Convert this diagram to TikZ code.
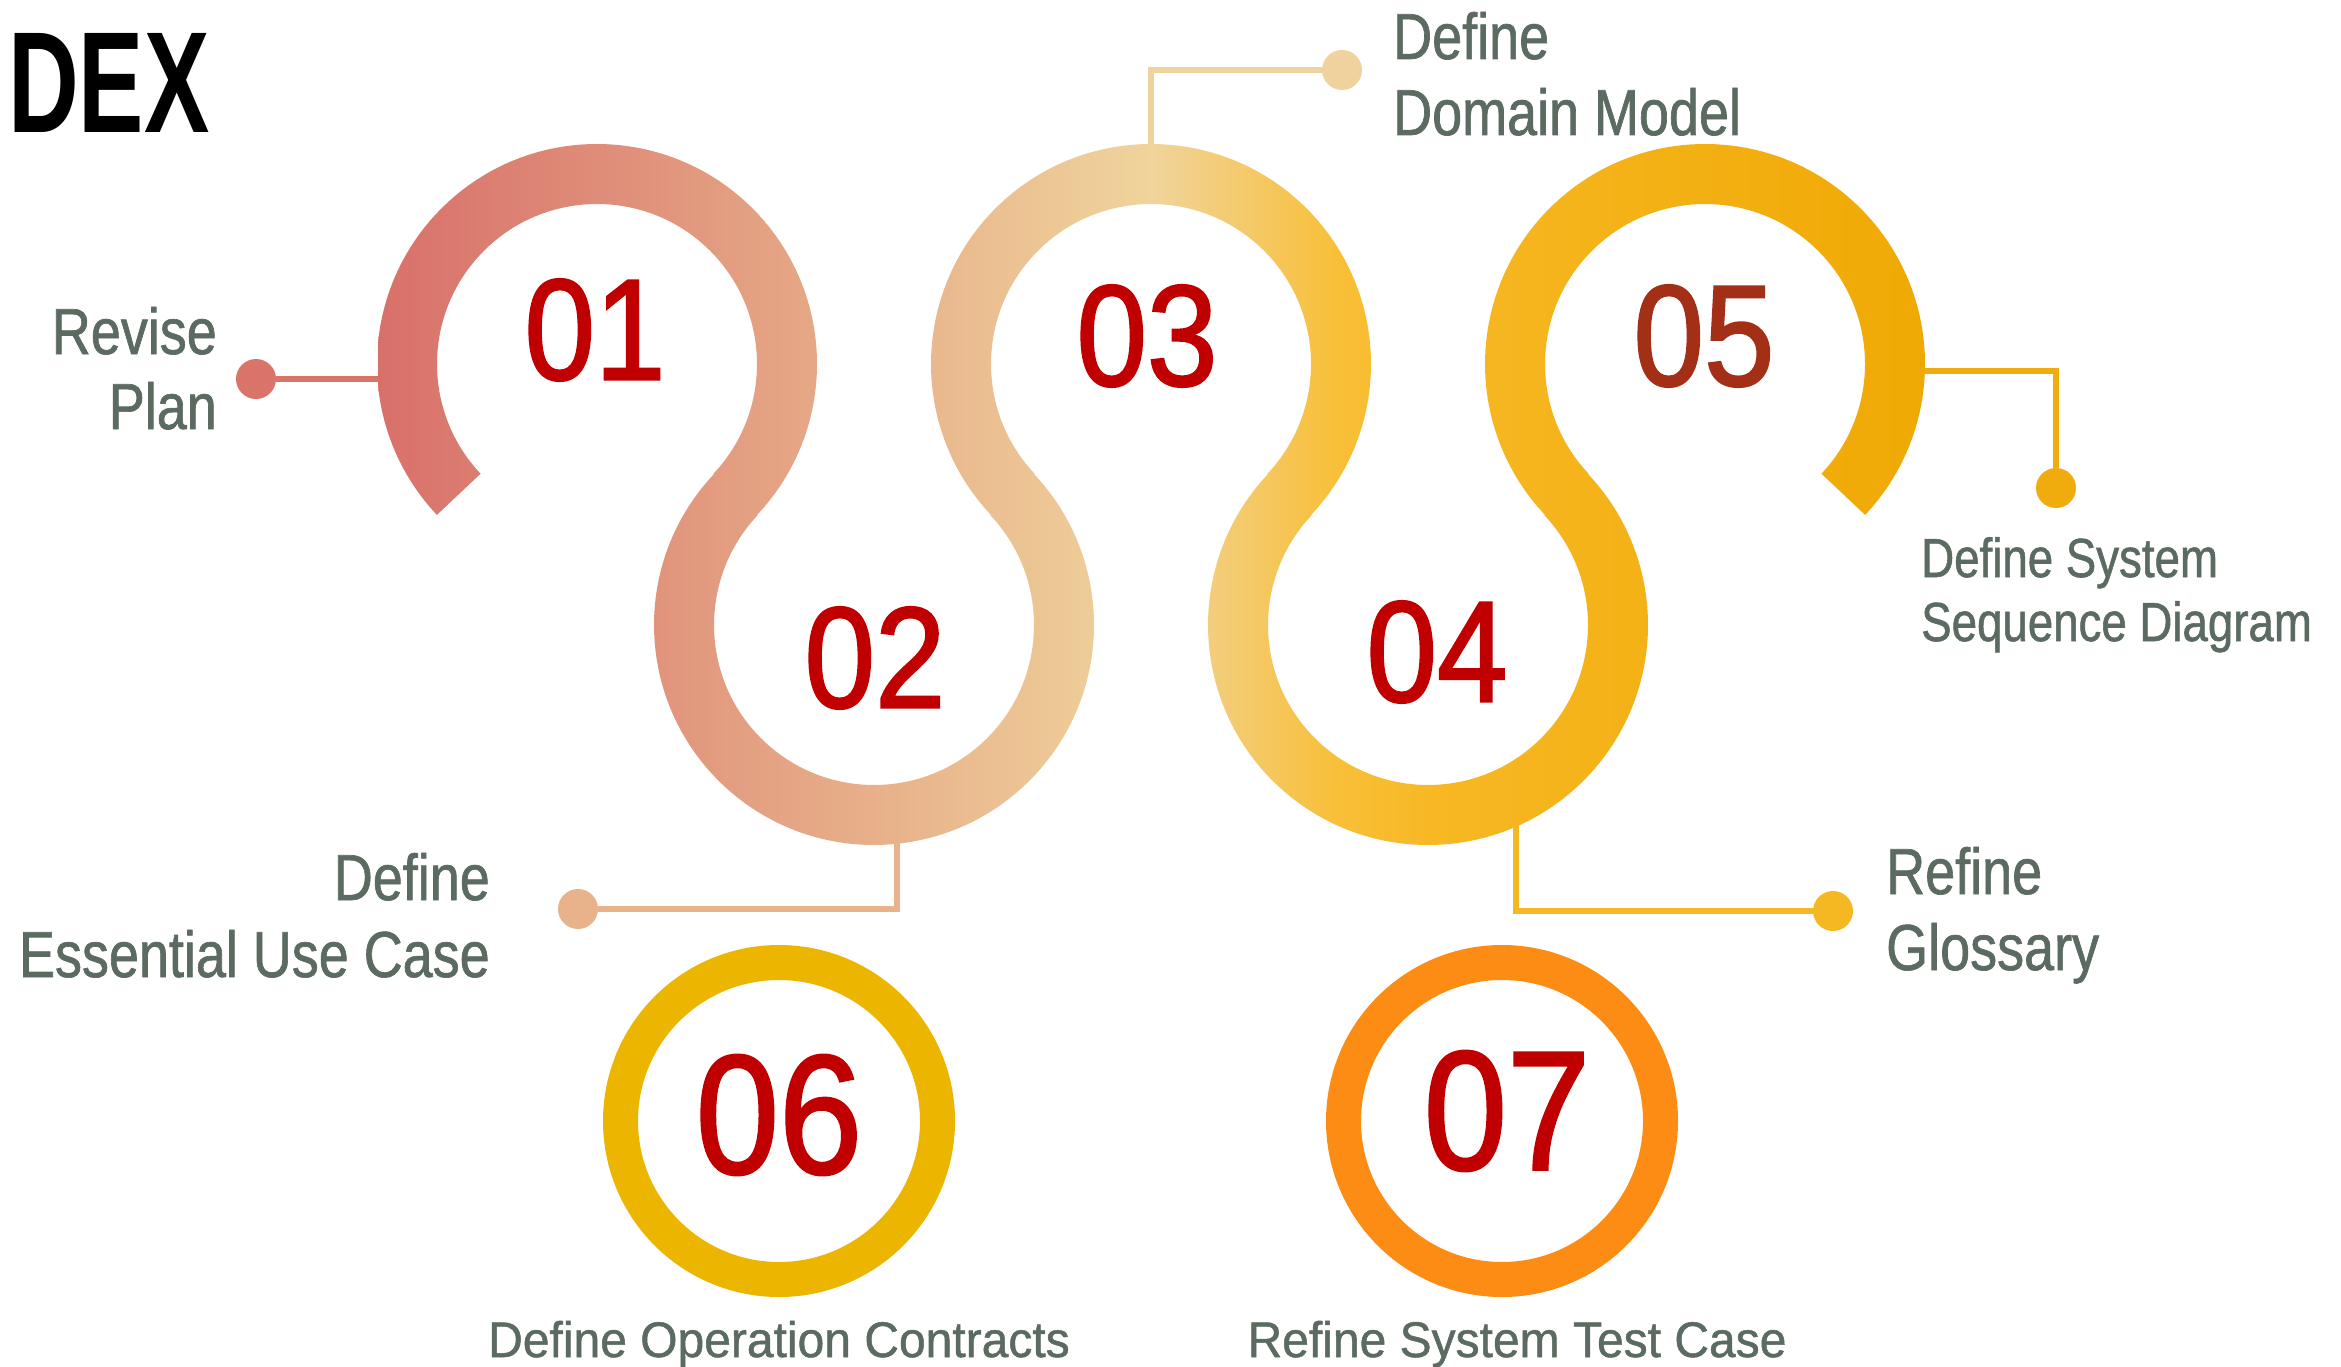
\documentclass[tikz,border=0pt]{standalone}
\usepackage{fontspec}
\setmainfont{Liberation Sans}
\newfontfamily\labelfont{Liberation Sans}[FakeStretch=0.83,FakeBold=1]
\newfontfamily\bottomfont{Liberation Sans}[FakeStretch=0.96,FakeBold=1]
\newfontfamily\numfont{Liberation Sans}[FakeStretch=0.88,FakeBold=1.5]
\newfontfamily\titlefont{Liberation Sans}[FakeStretch=0.68]
\usepackage{xcolor}
\definecolor{txtgray}{HTML}{5B6B61}
\definecolor{numred}{HTML}{C00000}
\definecolor{numbrown}{HTML}{A33016}
\definecolor{bandA}{HTML}{D8706A}
\definecolor{bandB}{HTML}{F0D49C}
\definecolor{bandC}{HTML}{F8BF38}
\definecolor{bandD}{HTML}{F7B824}
\definecolor{bandE}{HTML}{F0A904}
\definecolor{ringsix}{HTML}{ECB500}
\definecolor{ringseven}{HTML}{FD8C14}
\definecolor{dotA}{HTML}{DB7468}
\definecolor{dotB}{HTML}{E8B28A}
\definecolor{dotC}{HTML}{F0D29E}
\definecolor{dotD}{HTML}{F5B822}
\definecolor{dotE}{HTML}{F0AC0C}
\pgfdeclarehorizontalshading{sband}{100bp}{color(0bp)=(bandA); color(25bp)=(bandA); color(50bp)=(bandB); color(56bp)=(bandC); color(59bp)=(bandD); color(75bp)=(bandE); color(100bp)=(bandE)}

\begin{document}
\begin{tikzpicture}[x=1pt,y=-1pt,
	lbl/.style={font=\labelfont\fontsize{65}{76}\selectfont,text=txtgray,inner sep=0pt},
	lblsm/.style={font=\labelfont\fontsize{55}{64}\selectfont,text=txtgray,inner sep=0pt},
	lblbot/.style={font=\bottomfont\fontsize{50}{60}\selectfont,text=txtgray,inner sep=0pt},
	num/.style={font=\numfont\fontsize{144}{144}\selectfont,text=numred,inner sep=0pt},
	numbig/.style={num,font=\numfont\fontsize{170}{170}\selectfont},
	dot/.style={circle,inner sep=0pt,minimum size=40pt},
	link/.style={line width=6pt}]
			% background and frame
			\fill[white] (0,0) rectangle (2341,1367);
			\useasboundingbox (0,0) rectangle (2341,1367);
			
			% centres of the loops
			\coordinate (c1) at (597,364);
			\coordinate (c2) at (874,625);
			\coordinate (c3) at (1151,364);
			\coordinate (c4) at (1428,625);
			\coordinate (c5) at (1705,364);
			\coordinate (c6) at (779,1121);
			\coordinate (c7) at (1502,1121);
			
			% draw links (behind the band)
			\node[dot,fill=dotA] (revdot) at (256,379) {};
			\coordinate (revend) at (400,379);
			\draw[link,dotA] (revdot) -- (revend);
			\node[dot,fill=dotC] (domdot) at (1342,70) {};
			\coordinate (domend) at (1151,160);
			\draw[link,dotC] (domend) |- (domdot);
			\node[dot,fill=dotE] (seqdot) at (2056,488) {};
			\coordinate (seqend) at (1900,371);
			\draw[link,dotE] (seqend) -| (seqdot);
			\node[dot,fill=dotB] (essdot) at (578,909) {};
			\coordinate (essend) at (897,830);
			\draw[link,dotB] (essdot) -| (essend);
			\node[dot,fill=dotD] (glodot) at (1833,911) {};
			\coordinate (gloend) at (1516,820);
			\draw[link,dotD] (gloend) |- (glodot);
			
			% draw band
			\begin{scope}
				\clip foreach \c/\a/\b in {c1/136.7/403.3, c2/223.3/-43.3, c3/136.7/403.3, c4/223.3/-43.3, c5/136.7/403.3}
				{(\c) ++(\a:220) arc[start angle=\a, end angle=\b, radius=220] -- ++(\b+180:60) arc[start angle=\b, end angle=\a, radius=160] -- cycle};
				\shade[shading=sband] (378,140) rectangle (1925,850);
			\end{scope}
			
			% draw rings
			\draw[ringsix,line width=35pt] (c6) circle[radius=158.5];
			\draw[ringseven,line width=35pt] (c7) circle[radius=158.5];
			
			% draw numbers
			\node[num] (n1) at (595,330) {01};
			\node[num] (n2) at (875,658) {02};
			\node[num] (n3) at (1147,336) {03};
			\node[num] (n4) at (1437,652) {04};
			\node[num,text=numbrown] (n5) at (1704,336) {05};
			\node[numbig] (n6) at (779,1115) {06};
			\node[numbig] (n7) at (1507,1111) {07};
			
			% draw labels
			\node[font=\titlefont\bfseries\fontsize{144}{144}\selectfont,inner sep=0pt,anchor=base west] (title) at (8,133) {DEX};
			\node[lbl,anchor=base east] (rev1) at (217,354) {Revise};
			\node[lbl,anchor=base east] (rev2) at (217,429) {Plan};
			\node[lbl,anchor=base west] (dom1) at (1393,59) {Define};
			\node[lbl,anchor=base west] (dom2) at (1393,135) {Domain Model};
			\node[lblsm,anchor=base west] (seq1) at (1921,577) {Define System};
			\node[lblsm,anchor=base west] (seq2) at (1921,641) {Sequence Diagram};
			\node[lbl,anchor=base east] (ess1) at (490,900) {Define};
			\node[lbl,anchor=base east] (ess2) at (490,977) {Essential Use Case};
			\node[lbl,anchor=base west] (glo1) at (1886,894) {Refine};
			\node[lbl,anchor=base west] (glo2) at (1886,970) {Glossary};
			\node[lblbot,anchor=base] (op) at (779,1357) {Define Operation Contracts};
			\node[lblbot,anchor=base] (test) at (1517,1357) {Refine System Test Case};
\end{tikzpicture}
\end{document}
